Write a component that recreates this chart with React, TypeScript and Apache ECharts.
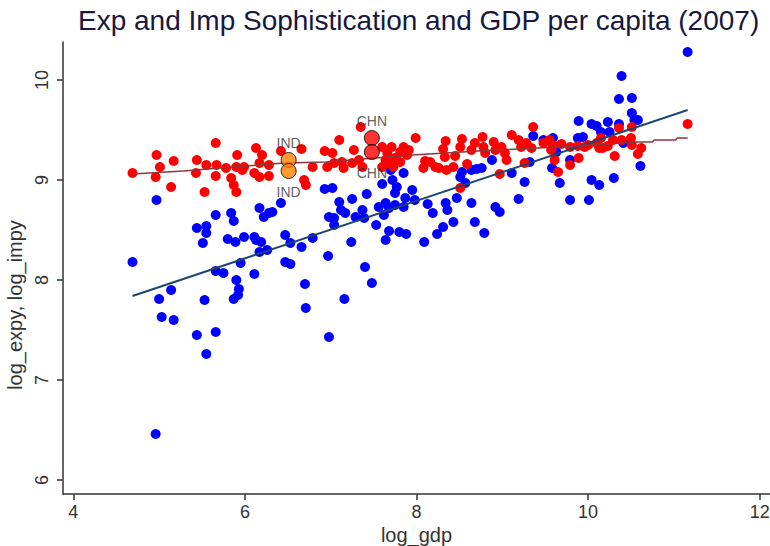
import React, { useEffect, useRef } from "react";
import * as echarts from "echarts";

// log_expy (blue)
const expGdp = [
  4.97, 4.69, 5.66, 5.84, 5.87, 5.44, 5.55, 5.55, 5.51, 5.80, 5.89, 5.99, 6.11, 6.13, 6.19, 6.17, 6.26, 6.17, 6.22, 6.28,
  6.32, 6.42, 6.47, 6.53, 6.66, 6.79, 6.93, 6.98, 5.95, 5.66, 5.75, 6.11, 5.90, 6.47, 6.53, 6.70, 5.14, 5.00, 5.93, 5.92,
  5.87, 5.53, 5.03, 5.17, 5.44, 5.66, 5.55, 6.71, 6.98, 4.96, 7.16, 7.40, 7.48, 6.97,
  7.53, 7.68, 7.64, 7.80, 7.88, 7.24, 8.09, 8.24, 8.31, 8.43, 8.68, 8.79, 7.04,
  7.02, 7.70, 7.85, 7.72, 7.77, 7.95, 7.75, 7.87, 7.98, 7.10, 7.25, 7.42, 7.60, 7.12, 7.17, 7.04, 7.29, 7.37, 7.39, 7.56,
  7.64, 7.68, 7.75, 7.85, 7.62, 8.13, 8.19, 8.34, 8.36, 8.47, 8.64, 8.92, 8.97, 9.19, 9.26, 9.11, 9.32, 9.36, 9.48, 9.58,
  8.53, 8.51, 8.57, 8.64, 8.70, 8.76, 8.88,
  11.16, 10.39, 10.36, 10.51, 10.51, 10.54, 10.58, 9.89, 10.04, 10.10, 10.23, 10.36, 10.15, 10.25, 9.59, 9.88, 9.94, 9.63,
  9.79, 9.67, 10.04, 10.13, 10.30, 10.61, 9.79, 10.01, 10.41,
];
const expVal = [
  8.80, 8.18, 8.65, 8.67, 8.59, 8.52, 8.54, 8.47, 8.37, 8.41, 8.38, 8.43, 8.43, 8.40, 8.38, 8.28, 8.30, 8.72, 8.63, 8.67,
  8.68, 8.77, 8.45, 8.37, 8.33, 8.42, 8.91, 8.63, 8.17, 8.09, 8.07, 8.06, 8.00, 8.18, 8.16, 7.96, 7.90, 7.81, 7.91, 7.85,
  7.81, 7.80, 7.63, 7.60, 7.45, 7.48, 7.26, 7.72, 7.43, 6.46, 7.81, 8.13, 7.97, 8.24,
  8.55, 8.49, 8.40, 8.48, 8.46, 8.38, 8.38, 8.46, 8.53, 8.58, 8.58, 8.47, 8.55,
  8.92, 9.10, 9.07, 9.00, 8.93, 8.90, 8.87, 8.82, 8.80, 8.78, 8.81, 8.86, 8.96, 8.70, 8.67, 8.62, 8.63, 8.70, 8.62, 8.73,
  8.77, 8.72, 8.75, 8.73, 8.65, 8.76, 8.67, 8.77, 8.70, 8.82, 8.77, 8.73, 8.68, 8.81, 8.98, 9.07, 9.18, 9.44, 9.40, 9.12,
  9.08, 9.03, 8.97, 9.10, 9.11, 9.12, 9.20,
  10.28, 10.04, 9.81, 9.82, 9.67, 9.60, 9.60, 9.59, 9.56, 9.54, 9.58, 9.56, 9.48, 9.48, 9.42, 9.42, 9.43, 9.28,
  9.20, 8.97, 9.00, 8.95, 9.02, 9.14, 8.80, 8.80, 9.37,
];

// log_impy (red)
const impGdp = [
  4.69, 4.97, 5.01, 4.96, 5.17, 5.14, 5.44, 5.43, 5.53, 5.55, 5.66, 5.66, 5.67, 5.78, 5.84, 5.90, 5.91, 5.87, 5.90, 5.97,
  5.99, 6.11, 6.13, 6.17, 6.20, 6.28, 6.28, 6.17, 6.42, 6.66, 6.69, 6.71, 6.79, 6.93, 6.96,
  7.10, 7.35, 7.02, 7.04, 7.13, 7.15, 7.27, 7.25, 7.33, 7.37, 7.60, 7.66, 7.71, 7.75, 7.81, 7.85, 7.89, 7.99, 7.66, 7.73,
  7.60, 8.10, 8.08, 8.16, 8.22, 8.26, 8.34, 8.31, 8.33, 8.45, 8.43, 8.35, 8.53, 8.51, 8.59, 8.68, 8.77, 8.78, 8.64, 8.80,
  8.90, 8.92, 8.99, 9.03, 9.05, 8.97, 9.11, 9.19, 9.22, 9.28, 9.34, 9.36, 9.48, 9.55, 9.61, 9.65, 8.51, 9.26, 7.91, 7.81, 7.64,
  11.16, 10.36, 10.51, 9.59, 9.69, 9.79, 9.88, 10.00, 10.10, 10.15, 10.23, 10.29, 10.39, 10.50, 10.51, 10.62, 10.58, 10.13,
  10.31, 9.89, 9.79, 9.57, 9.96, 10.17,
];
const impVal = [
  9.07, 9.25, 9.13, 9.03, 9.19, 8.93, 9.20, 9.07, 8.88, 9.15, 9.37, 9.04, 9.15, 9.12, 9.02, 9.13, 9.25, 8.95, 8.88, 9.10,
  9.13, 9.07, 9.32, 9.17, 9.25, 9.15, 9.04, 9.03, 9.29, 9.31, 9.00, 8.95, 9.13, 9.29, 9.13,
  9.40, 9.53, 9.27, 9.17, 9.18, 9.12, 9.30, 9.17, 9.20, 9.13, 9.33, 9.27, 9.33, 9.22, 9.28, 9.33, 9.25, 9.42, 9.17, 9.13,
  9.13, 9.19, 9.12, 9.18, 9.13, 9.12, 9.39, 9.31, 9.23, 9.24, 9.13, 9.10, 9.41, 9.33, 9.16, 9.37, 9.43, 9.33, 9.30, 9.27,
  9.38, 9.30, 9.33, 9.27, 9.20, 9.06, 9.45, 9.40, 9.33, 9.37, 9.32, 9.53, 9.37, 9.40, 9.20, 9.08, 8.92, 9.17, 9.30, 9.18, 9.20,
  9.56, 9.52, 9.53, 9.35, 9.36, 9.33, 9.34, 9.35, 9.37, 9.42, 9.34, 9.40, 9.40, 9.42, 9.35, 9.32, 9.26, 9.32,
  9.24, 9.22, 9.15, 9.30, 9.33, 9.32,
];

// fitted lines
const expFitGdp = [4.69, 11.16];
const expFitVal = [7.84, 9.70];
const impFitGdp = [4.69, 5.28, 5.86, 6.46, 6.94, 7.95, 8.92, 9.65, 10.58, 10.75, 10.77, 11.02, 11.04, 11.16];
const impFitVal = [9.06, 9.09, 9.13, 9.17, 9.18, 9.25, 9.30, 9.33, 9.38, 9.38, 9.40, 9.40, 9.42, 9.42];

// highlighted countries
const hlName = ["CHN", "CHN", "IND", "IND"];
const hlGdp = [7.48, 7.48, 6.51, 6.51];
const hlVal = [9.42, 9.28, 9.2, 9.09];
const hlLabelPos = ["top", "bottom", "top", "bottom"];
const hlColor = ["#ff0000", "#ff0000", "#ff8000", "#ff8000"];

const xTicks = [4, 6, 8, 10, 12];
const yTicks = [6, 7, 8, 9, 10];

const FONT = "Liberation Sans, Arial, sans-serif";

export default function App() {
  const ref = useRef<HTMLDivElement>(null);
  useEffect(() => {
    if (!ref.current) return;
    const chart = echarts.init(ref.current, undefined, { renderer: "svg" });
    const pairs = (xs: number[], ys: number[]) => xs.map((x, i) => [x, ys[i]]);
    chart.setOption({
      animation: false,
      backgroundColor: "#ffffff",
      title: {
        text: "Exp and Imp Sophistication and GDP per capita (2007)",
        left: 73,
        top: 1,
        textStyle: { fontFamily: FONT, fontSize: 28, fontWeight: "normal", color: "#18183f" },
      },
      grid: { left: 63, right: 0, top: 42, bottom: 52, containLabel: false, outerBoundsMode: "none" },
      xAxis: {
        type: "value",
        min: 3.88,
        max: 12.12,
        name: "log_gdp",
        nameLocation: "middle",
        nameGap: 31,
        nameMoveOverlap: false,
        nameTextStyle: { fontFamily: FONT, fontSize: 20, color: "#333333" },
        axisLine: { show: true, lineStyle: { color: "#333333", width: 1.5 } },
        axisTick: { show: true, length: 6, customValues: xTicks, lineStyle: { color: "#333333", width: 1.5 } },
        axisLabel: { customValues: xTicks, fontFamily: FONT, fontSize: 18, color: "#333333", margin: 9 },
        splitLine: { show: false },
      },
      yAxis: {
        type: "value",
        min: 5.86,
        max: 10.38,
        name: "log_expy, log_impy",
        nameLocation: "middle",
        nameGap: 38,
        nameMoveOverlap: false,
        nameTextStyle: { fontFamily: FONT, fontSize: 20, color: "#333333", padding: [0, 74, 0, 0] },
        axisLine: { show: true, lineStyle: { color: "#333333", width: 1.5 } },
        axisTick: { show: true, length: 6, customValues: yTicks, lineStyle: { color: "#333333", width: 1.5 } },
        axisLabel: { customValues: yTicks, rotate: 90, fontFamily: FONT, fontSize: 18, color: "#333333", margin: 12 },
        splitLine: { show: false },
      },
      series: [
        {
          type: "scatter",
          name: "log_expy",
          data: pairs(expGdp, expVal),
          symbolSize: 10,
          itemStyle: { color: "#0000ff", opacity: 1 },
          z: 2,
        },
        {
          type: "scatter",
          name: "log_impy",
          data: pairs(impGdp, impVal),
          symbolSize: 10,
          itemStyle: { color: "#ff0000", opacity: 1 },
          z: 3,
        },
        {
          type: "line",
          name: "fit expy",
          data: pairs(expFitGdp, expFitVal),
          showSymbol: false,
          lineStyle: { color: "#1a476f", width: 2 },
          z: 4,
        },
        {
          type: "line",
          name: "fit impy",
          data: pairs(impFitGdp, impFitVal),
          showSymbol: false,
          lineStyle: { color: "#90353b", width: 1.5 },
          z: 4,
        },
        {
          type: "scatter",
          name: "highlight",
          symbolSize: 15,
          z: 5,
          data: hlGdp.map((x, i) => ({
            value: [x, hlVal[i]],
            name: hlName[i],
            itemStyle: { color: hlColor[i], borderColor: "#000000", borderWidth: 1 },
            label: {
              show: true,
              position: hlLabelPos[i],
              distance: hlLabelPos[i] === "top" ? 2 : 6,
              formatter: hlName[i],
              fontFamily: FONT,
              fontSize: 14,
              color: "#333333",
            },
          })),
        },
      ],
    });
    return () => chart.dispose();
  }, []);
  return (
    <div
      ref={ref}
      style={{ position: "fixed", left: 0, top: 0, width: 770, height: 546, background: "#fff" }}
    />
  );
}
